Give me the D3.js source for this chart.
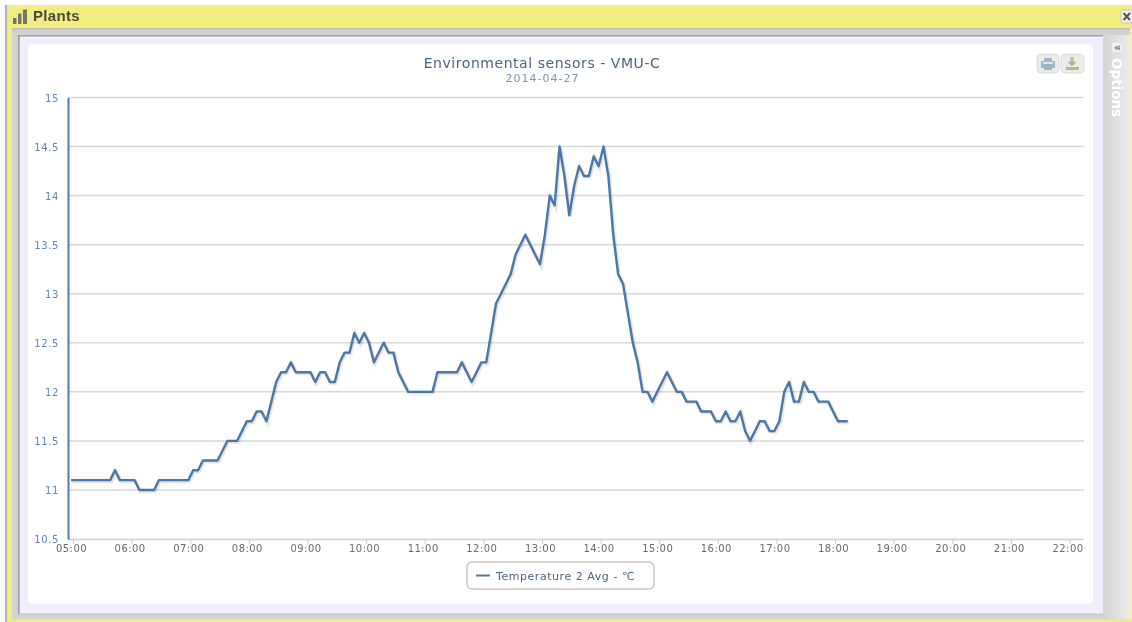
<!DOCTYPE html>
<meta charset="utf-8">
<style>
html, body { margin: 0; padding: 0; background: #fff; }
svg { display: block; filter: blur(0.45px); }
text { font-family: "DejaVu Sans", sans-serif; }
.grid line { stroke: #d9d9d9; stroke-width: 1.5px; }
.x-axis path { stroke: #c6d4e4; stroke-width: 1.5px; fill: none; }
.x-axis line { stroke: #c0d0e0; }
.x-axis text { font-size: 10px; fill: #6b6b6b; letter-spacing: 0.45px; }
.y-axis path { stroke: #4f7cae; stroke-width: 2px; fill: none; }
.y-axis text { font-size: 10px; fill: #5f86b4; letter-spacing: 0.6px; }
</style>
<svg width="1132" height="622"></svg>
<script src="https://d3js.org/d3.v7.min.js"></script>
<script>

var titleText = "Environmental sensors - VMU-C",
    subtitleText = "2014-04-27",
    seriesName = "Temperature 2 Avg - ℃",
    panelName = "Plants";

var yTicks = [10.5, 11, 11.5, 12, 12.5, 13, 13.5, 14, 14.5, 15];

var hourLabels = ["05:00", "06:00", "07:00", "08:00", "09:00", "10:00", "11:00", "12:00", "13:00",
  "14:00", "15:00", "16:00", "17:00", "18:00", "19:00", "20:00", "21:00", "22:00"];

// one reading every 5 minutes, first one at 04:58
var firstReading = "04:58",
    readingMinutes = 5;

var temperature = [
  11.1, 11.1, 11.1, 11.1, 11.1, 11.1, 11.1, 11.1, 11.1, 11.2,
  11.1, 11.1, 11.1, 11.1, 11.0, 11.0, 11.0, 11.0, 11.1, 11.1,
  11.1, 11.1, 11.1, 11.1, 11.1, 11.2, 11.2, 11.3, 11.3, 11.3,
  11.3, 11.4, 11.5, 11.5, 11.5, 11.6, 11.7, 11.7, 11.8, 11.8,
  11.7, 11.9, 12.1, 12.2, 12.2, 12.3, 12.2, 12.2, 12.2, 12.2,
  12.1, 12.2, 12.2, 12.1, 12.1, 12.3, 12.4, 12.4, 12.6, 12.5,
  12.6, 12.5, 12.3, 12.4, 12.5, 12.4, 12.4, 12.2, 12.1, 12.0,
  12.0, 12.0, 12.0, 12.0, 12.0, 12.2, 12.2, 12.2, 12.2, 12.2,
  12.3, 12.2, 12.1, 12.2, 12.3, 12.3, 12.6, 12.9, 13.0, 13.1,
  13.2, 13.4, 13.5, 13.6, 13.5, 13.4, 13.3, 13.6, 14.0, 13.9,
  14.5, 14.2, 13.8, 14.1, 14.3, 14.2, 14.2, 14.4, 14.3, 14.5,
  14.2, 13.6, 13.2, 13.1, 12.8, 12.5, 12.3, 12.0, 12.0, 11.9,
  12.0, 12.1, 12.2, 12.1, 12.0, 12.0, 11.9, 11.9, 11.9, 11.8,
  11.8, 11.8, 11.7, 11.7, 11.8, 11.7, 11.7, 11.8, 11.6, 11.5,
  11.6, 11.7, 11.7, 11.6, 11.6, 11.7, 12.0, 12.1, 11.9, 11.9,
  12.1, 12.0, 12.0, 11.9, 11.9, 11.9, 11.8, 11.7, 11.7, 11.7
];

var svg = d3.select("svg");
var parseTime = d3.timeParse("%H:%M");

var defs = svg.append("defs");
var sideGrad = defs.append("linearGradient").attr("id", "side");
sideGrad.append("stop").attr("offset", "0").attr("stop-color", "#d4d4d4");
sideGrad.append("stop").attr("offset", "1").attr("stop-color", "#ececec");

// window frame
function box(x, y, w, h, fill, rx) {
  return svg.append("rect").attr("x", x).attr("y", y).attr("width", w).attr("height", h)
      .attr("fill", fill).attr("rx", rx || 0);
}
box(5, 5, 2.5, 617, "#b4b4b0");
box(7.5, 5, 1124.5, 617, "#f0ee80");
box(12, 28, 1120, 591.5, "#d2d2d0");
box(12, 28, 1120, 1.5, "#bdbcb6");
box(20, 36, 1083, 578, "#eeeefc");
box(18, 35, 1085, 1.5, "#a0a0a0");
box(18, 35, 1.5, 579.5, "#a0a0a0");
box(19.5, 613.5, 1083.5, 1, "#c0c0c0");
box(28, 44, 1065, 560, "#fff", 5);
box(1103, 35, 27, 584.5, "url(#side)");
box(1130, 28, 2, 591.5, "#f4f2a0");

// header
var icon = svg.append("g").attr("fill", "#757570");
icon.append("rect").attr("x", 13).attr("y", 18).attr("width", 3.5).attr("height", 6);
icon.append("rect").attr("x", 18).attr("y", 13.5).attr("width", 3.5).attr("height", 10.5);
icon.append("rect").attr("x", 23).attr("y", 9.5).attr("width", 4).attr("height", 14.5);
svg.append("text").attr("x", 33).attr("y", 21).text(panelName)
    .attr("font-size", 15).attr("font-weight", "bold").attr("fill", "#4a4a42")
    .style("font-family", "'Liberation Sans', sans-serif").style("letter-spacing", "0.3px");

// close button
box(1121, 10, 12, 13, "#f2f2ee", 2).attr("stroke", "#c8c8b8");
svg.append("path").attr("d", "M1123.5 13L1130 20M1130 13L1123.5 20")
    .attr("stroke", "#555").attr("stroke-width", 2).attr("fill", "none");

// options bar
box(1111.5, 42, 12, 11, "#efefef", 2).attr("stroke", "#ddd");
svg.append("text").attr("x", 1117.5).attr("y", 51).attr("text-anchor", "middle").text("«")
    .attr("font-size", 11).attr("font-weight", "bold").attr("fill", "#666");
svg.append("text").attr("transform", "translate(1112,58) rotate(90)").text("Options")
    .attr("font-size", 13.5).attr("font-weight", "bold").attr("fill", "#fff");

// chart
var x = d3.scaleTime()
    .domain([parseTime("05:00"), parseTime("22:00")])
    .range([73, 1069.5]);

var y = d3.scaleLinear()
    .domain([10.5, 15])
    .range([539, 97.5]);

var times = temperature.map(function(d, i) {
  return d3.timeMinute.offset(parseTime(firstReading), i * readingMinutes);
});

svg.append("g")
    .attr("class", "grid")
  .selectAll("line")
  .data(yTicks.slice(1))
  .enter().append("line")
    .attr("x1", 68)
    .attr("x2", 1084)
    .attr("y1", function(d) { return y(d); })
    .attr("y2", function(d) { return y(d); });

var xAxis = svg.append("g")
    .attr("class", "x-axis")
    .attr("transform", "translate(0,539)")
    .call(d3.axisBottom(x)
      .tickValues(hourLabels.map(parseTime))
      .tickFormat(d3.timeFormat("%H:%M"))
      .tickSize(5)
      .tickSizeOuter(0));
xAxis.select(".domain").attr("d", "M68,0.5H1084");
xAxis.selectAll("text").attr("x", -2).attr("y", 6).attr("dy", "0.71em");

var yAxis = svg.append("g")
    .attr("class", "y-axis")
    .attr("transform", "translate(68,0)")
    .call(d3.axisLeft(y)
      .tickValues(yTicks)
      .tickFormat(d3.format("~g"))
      .tickSize(0)
      .tickPadding(9));
yAxis.selectAll("text").attr("dy", "0.35em");

var line = d3.line()
    .x(function(d, i) { return x(times[i]); })
    .y(function(d) { return y(d); });

// soft shadow under the series, then the series
[[5, 0.04], [3, 0.08]].forEach(function(s) {
  svg.append("path")
      .datum(temperature)
      .attr("transform", "translate(1,1)")
      .attr("fill", "none")
      .attr("stroke", "#000")
      .attr("stroke-opacity", s[1])
      .attr("stroke-width", s[0])
      .attr("d", line);
});

svg.append("path")
    .datum(temperature)
    .attr("fill", "none")
    .attr("stroke", "#4a78ab")
    .attr("stroke-width", 2.4)
    .attr("stroke-linejoin", "round")
    .attr("d", line);

// titles
svg.append("text").attr("x", 542).attr("y", 68).attr("text-anchor", "middle").text(titleText)
    .attr("font-size", 14).attr("fill", "#4d6580").style("letter-spacing", "0.55px");
svg.append("text").attr("x", 542.5).attr("y", 82).attr("text-anchor", "middle").text(subtitleText)
    .attr("font-size", 11).attr("fill", "#7d95b0").style("letter-spacing", "1px");

// export buttons
box(1037, 54, 22, 19, "#ebebeb", 4).attr("stroke", "#dcdcdc");
box(1061, 54, 23, 19, "#ebebeb", 4).attr("stroke", "#dcdcdc");
svg.append("path").attr("d", "M1044 58h8v3h3v7h-3v2h-8v-2h-3v-7h3z").attr("fill", "#9db5cf");
svg.append("path").attr("d", "M1043 63h10").attr("stroke", "#dde6f0").attr("stroke-width", 2);
svg.append("path").attr("d", "M1070.500 57h3v5h3l-4.500 4.500l-4.500 -4.500h3zM1066 67h13v3h-13z").attr("fill", "#aebb90");

// legend
box(467, 562, 187, 27, "#fff", 5).attr("stroke", "#c8c8c8").attr("stroke-width", 1.5);
svg.append("line").attr("x1", 476).attr("x2", 490).attr("y1", 575.5).attr("y2", 575.5)
    .attr("stroke", "#4a78ab").attr("stroke-width", 2);
svg.append("text").attr("x", 496).attr("y", 579.5).text(seriesName)
    .attr("font-size", 11).attr("fill", "#4d6580").style("letter-spacing", "0.55px");

</script>
